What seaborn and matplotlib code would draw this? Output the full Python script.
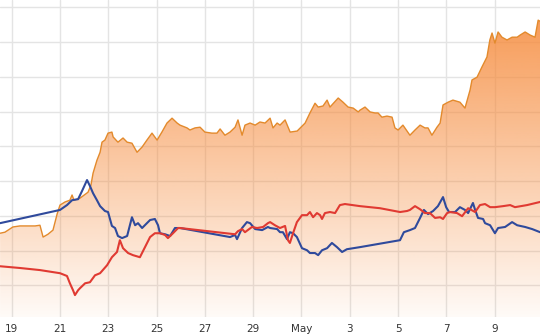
import numpy as np
import pandas as pd
import matplotlib
matplotlib.use("Agg")
import matplotlib.pyplot as plt
from matplotlib.patches import PathPatch
import matplotlib.dates as mdates
import seaborn as sns

# ---- data (day numbers: 1 = Apr 1, 31 = May 1) ----
orange_day = [18.52, 18.72, 19.05, 19.34, 19.97, 20.17, 20.30, 20.50, 20.71, 20.88, 21.00, 21.21, 21.41, 21.50,
              21.58, 21.83, 22.16, 22.28, 22.37, 22.53, 22.66, 22.74, 22.86, 22.99, 23.15, 23.20, 23.40, 23.61,
              23.78, 23.98, 24.19, 24.40, 24.60, 24.81, 25.02, 25.22, 25.43, 25.64, 25.85, 25.97, 26.26, 26.38,
              26.59, 26.80, 27.00, 27.29, 27.50, 27.63, 27.83, 28.04, 28.25, 28.37, 28.54, 28.66, 28.87, 29.08,
              29.28, 29.49, 29.70, 29.82, 29.99, 30.11, 30.32, 30.53, 30.82, 31.15, 31.35, 31.56, 31.69, 31.89,
              32.06, 32.18, 32.52, 32.72, 32.93, 33.14, 33.35, 33.42, 33.63, 33.84, 34.04, 34.17, 34.33, 34.54,
              34.75, 34.87, 35.00, 35.20, 35.49, 35.70, 35.91, 36.11, 36.24, 36.40, 36.61, 36.74, 36.86, 37.07,
              37.27, 37.56, 37.77, 37.98, 38.06, 38.27, 38.47, 38.68, 38.80, 38.89, 39.01, 39.14, 39.30, 39.51,
              39.72, 39.93, 40.05, 40.26, 40.47, 40.67, 40.80, 40.92]
orange_val = [2.50, 2.53, 2.68, 2.71, 2.71, 2.73, 2.39, 2.47, 2.59, 3.05, 3.31, 3.40, 3.45, 3.60,
              3.45, 3.51, 3.68, 3.88, 4.23, 4.60, 4.83, 5.12, 5.18, 5.38, 5.41, 5.27, 5.12, 5.24,
              5.12, 5.09, 4.83, 4.98, 5.18, 5.38, 5.18, 5.41, 5.67, 5.81, 5.67, 5.61, 5.53, 5.47,
              5.53, 5.55, 5.41, 5.38, 5.38, 5.50, 5.32, 5.41, 5.55, 5.76, 5.32, 5.61, 5.67, 5.61,
              5.70, 5.67, 5.81, 5.53, 5.67, 5.61, 5.76, 5.41, 5.44, 5.67, 5.96, 6.24, 6.13, 6.16,
              6.33, 6.13, 6.39, 6.27, 6.13, 6.10, 5.99, 6.04, 6.13, 5.99, 5.96, 5.96, 5.84, 5.87,
              5.84, 5.53, 5.47, 5.61, 5.32, 5.47, 5.61, 5.53, 5.53, 5.32, 5.55, 5.67, 6.19, 6.27,
              6.33, 6.27, 6.10, 6.62, 6.91, 6.99, 7.28, 7.57, 8.06, 8.26, 7.97, 8.29, 8.14, 8.06,
              8.14, 8.14, 8.20, 8.29, 8.20, 8.14, 8.63, 8.58]

red_day = [18.52, 19.34, 20.17, 21.00, 21.29, 21.41, 21.54, 21.62, 21.75, 21.83, 22.04, 22.24, 22.45, 22.66,
           22.95, 23.15, 23.36, 23.48, 23.61, 23.82, 24.02, 24.31, 24.52, 24.73, 24.93, 25.14, 25.35, 25.47,
           25.68, 25.89, 25.97, 28.25, 28.37, 28.54, 28.66, 28.95, 29.16, 29.41, 29.61, 29.70, 29.90, 30.11,
           30.32, 30.44, 30.52, 30.65, 30.81, 31.02, 31.23, 31.35, 31.48, 31.64, 31.77, 31.85, 31.97, 32.18,
           32.39, 32.59, 32.80, 33.42, 34.25, 35.08, 35.37, 35.49, 35.70, 35.91, 36.11, 36.32, 36.53, 36.74,
           36.86, 37.03, 37.15, 37.44, 37.65, 37.90, 38.19, 38.39, 38.60, 38.81, 39.01, 39.35, 39.64, 39.84,
           40.34, 40.88]
red_val = [1.55, 1.50, 1.44, 1.35, 1.27, 1.06, 0.86, 0.72, 0.86, 0.92, 1.06, 1.09, 1.29, 1.35,
           1.58, 1.81, 1.96, 2.30, 2.07, 1.93, 1.87, 1.81, 2.10, 2.39, 2.50, 2.50, 2.45, 2.36,
           2.50, 2.65, 2.65, 2.47, 2.56, 2.62, 2.53, 2.68, 2.65, 2.68, 2.79, 2.82, 2.73, 2.65,
           2.71, 2.30, 2.22, 2.50, 2.82, 3.02, 3.02, 3.11, 2.96, 3.08, 3.02, 2.91, 3.08, 3.11,
           3.08, 3.31, 3.34, 3.28, 3.22, 3.11, 3.14, 3.17, 3.28, 3.19, 3.08, 3.08, 2.94, 2.96,
           2.91, 3.08, 3.11, 3.08, 2.99, 3.22, 3.11, 3.31, 3.34, 3.25, 3.25, 3.28, 3.31, 3.25,
           3.31, 3.40]

blue_day = [18.52, 21.00, 21.29, 21.50, 21.75, 21.91, 22.12, 22.24, 22.37, 22.53, 22.66, 22.86, 22.99, 23.15,
            23.28, 23.40, 23.57, 23.78, 23.98, 24.11, 24.23, 24.40, 24.60, 24.73, 24.93, 25.06, 25.14, 25.35,
            25.56, 25.76, 25.97, 28.04, 28.25, 28.33, 28.54, 28.74, 28.87, 29.08, 29.37, 29.61, 29.70, 29.99,
            30.11, 30.23, 30.40, 30.52, 30.65, 30.81, 31.02, 31.23, 31.35, 31.56, 31.69, 31.85, 32.06, 32.26,
            32.47, 32.68, 32.88, 33.42, 35.08, 35.24, 35.49, 35.70, 35.91, 36.07, 36.24, 36.45, 36.65, 36.86,
            36.99, 37.11, 37.36, 37.56, 37.77, 37.90, 38.10, 38.19, 38.31, 38.52, 38.60, 38.81, 39.01, 39.14,
            39.43, 39.72, 39.93, 40.26, 40.55, 40.88]
blue_val = [2.79, 3.17, 3.31, 3.45, 3.48, 3.71, 4.03, 3.86, 3.65, 3.45, 3.28, 3.14, 3.11, 2.71,
            2.65, 2.42, 2.36, 2.42, 2.96, 2.73, 2.79, 2.65, 2.79, 2.88, 2.91, 2.73, 2.50, 2.47,
            2.42, 2.65, 2.65, 2.39, 2.45, 2.33, 2.65, 2.82, 2.79, 2.62, 2.59, 2.68, 2.65, 2.62,
            2.53, 2.53, 2.33, 2.53, 2.50, 2.39, 2.07, 2.01, 1.93, 1.93, 1.87, 2.01, 2.07, 2.22,
            2.10, 1.96, 2.04, 2.10, 2.30, 2.53, 2.59, 2.65, 2.94, 3.17, 3.05, 3.14, 3.28, 3.54,
            3.25, 3.11, 3.11, 3.25, 3.17, 3.08, 3.37, 3.17, 2.94, 2.91, 2.79, 2.73, 2.50, 2.65,
            2.68, 2.82, 2.73, 2.68, 2.62, 2.53]

tick_days = [19, 21, 23, 25, 27, 29, 31, 33, 35, 37, 39]
tick_labels = ["19", "21", "23", "25", "27", "29", "May", "3", "5", "7", "9"]

base = pd.Timestamp("2021-04-01")


def to_dt(days):
    return base + pd.to_timedelta(np.asarray(days, dtype=float) - 1, unit="D")


sns.set_style("white")
plt.rcParams["font.family"] = ["DejaVu Sans"]

fig = plt.figure(figsize=(5.4, 3.36), dpi=100)
ax = fig.add_axes([0, 19 / 336, 1, 317 / 336])

ymin, ymax = 0.09, 9.21
x0, x1 = to_dt([18.516])[0], to_dt([40.876])[0]
ax.set_xlim(x0, x1)
ax.set_ylim(ymin, ymax)

# grid
ax.set_axisbelow(True)
ax.set_yticks(range(1, 10))
ax.set_xticks(to_dt(tick_days))
ax.set_xticklabels(tick_labels)
ax.grid(True, color="#e4e4e4", linewidth=1.0)
ax.tick_params(axis="y", left=False, labelleft=False)
ax.tick_params(axis="x", length=0, pad=5, labelsize=7.5, labelcolor="#333333")
for s in ax.spines.values():
    s.set_visible(False)

# orange gradient area
odt = to_dt(orange_day)
poly = ax.fill_between(odt, orange_val, ymin, facecolor="none", edgecolor="none")
path = poly.get_paths()[0]
patch = PathPatch(path, transform=ax.transData, facecolor="none", edgecolor="none")
ax.add_patch(patch)
n = 300
t = np.linspace(0, 1, n)
rgba = np.zeros((n, 1, 4))
rgba[:, 0, 0] = 246 / 255
rgba[:, 0, 1] = 140 / 255
rgba[:, 0, 2] = 62 / 255
rgba[:, 0, 3] = 0.92 * (1 - t) + 0.04 * t
xn0, xn1 = mdates.date2num(x0), mdates.date2num(x1)
im = ax.imshow(rgba, extent=[xn0, xn1, ymin, ymax], origin="upper", aspect="auto", zorder=1.5)
im.set_clip_path(patch)
ax.set_xlim(x0, x1)
ax.set_ylim(ymin, ymax)

sns.lineplot(x=odt, y=orange_val, color="#e38a2c", linewidth=1.0, ax=ax, estimator=None, zorder=3)
sns.lineplot(x=to_dt(blue_day), y=blue_val, color="#2f4a9c", linewidth=1.5, ax=ax, estimator=None, zorder=4)
sns.lineplot(x=to_dt(red_day), y=red_val, color="#e03a32", linewidth=1.5, ax=ax, estimator=None, zorder=5)

ax.set_xlabel("")
ax.set_ylabel("")
fig.savefig("out.png", dpi=100)
